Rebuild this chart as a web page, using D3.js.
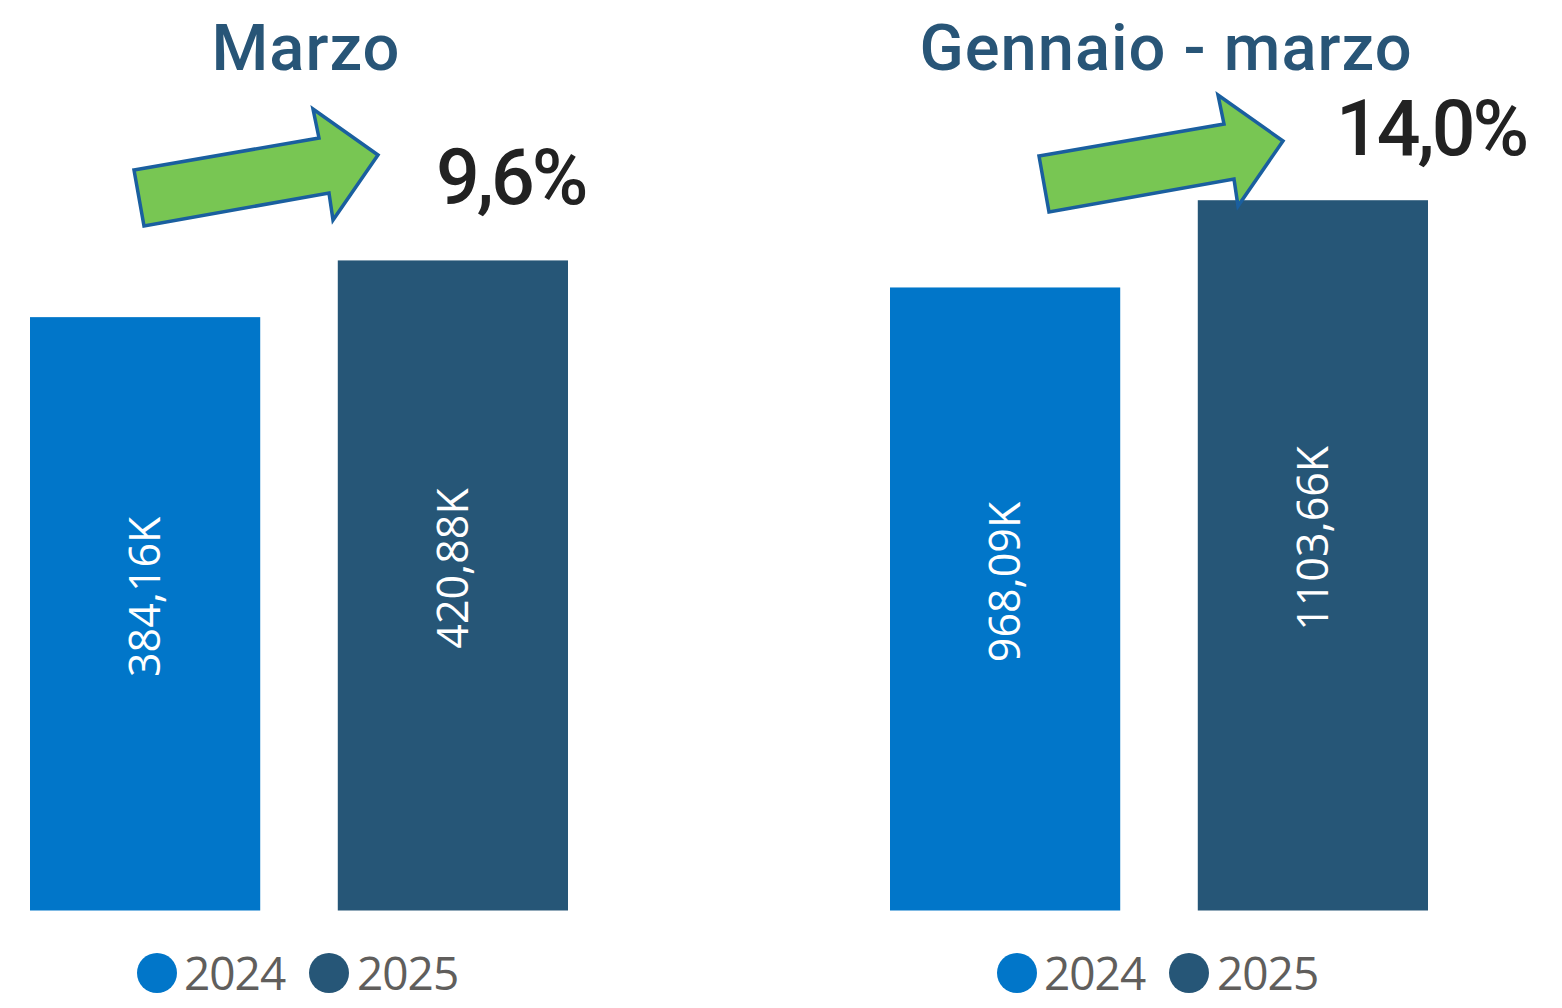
<!DOCTYPE html>
<html>
<head>
<meta charset="utf-8">
<script src="https://cdn.jsdelivr.net/npm/d3@7"></script>
<style>
  html, body { margin: 0; padding: 0; background: #ffffff; }
  svg { display: block; }
</style>
</head>
<body>
<svg id="chart" width="1562" height="1008"></svg>
<script>
// Periods shown side by side, one small bar chart each
const periodTitles = ["Marzo", "Gennaio - marzo"];
// Years compared in every panel (also the legend entries)
const years = ["2024", "2025"];
// Values in thousands
const marzoValues = [384.16, 420.88];
const gennaioMarzoValues = [968.09, 1103.66];

const seriesValues = [marzoValues, gennaioMarzoValues];
const yearColors = ["#0176c9", "#265677"];

const svg = d3.select("#chart");

// Layout for each panel
const panelLayout = [
  { offsetX: 0,   yMax: 460,  arrowTip: [378, 155], pctX: 436, pctBaseline: 204 },
  { offsetX: 860, yMax: 1104, arrowTip: [423, 141], pctX: 476, pctBaseline: 155 }
];

const plotLeft = 30, plotRight = 568, plotBottom = 910.5, plotTop = 200;

const itLocale = d3.formatLocale({ decimal: ",", thousands: ".", grouping: [3], currency: ["€", ""] });
const fmtValue = itLocale.format(".2f");
const fmtPct = itLocale.format(".1f");

// Block arrow outline, relative to the arrow tip
const arrowShape = [
  [-244, 15], [-59, -17], [-65, -46], [0, 0], [-45, 65], [-49, 38], [-234, 71]
];

periodTitles.forEach((title, i) => {
  const layout = panelLayout[i];
  const values = seriesValues[i];
  const g = svg.append("g").attr("transform", `translate(${layout.offsetX},0)`);

  const x = d3.scaleBand()
    .domain(years)
    .range([plotLeft, plotRight])
    .paddingInner(0.252)
    .paddingOuter(0);

  const y = d3.scaleLinear()
    .domain([0, layout.yMax])
    .range([plotBottom, plotTop]);

  // Title
  g.append("text")
    .attr("x", 306)
    .attr("y", 70)
    .attr("text-anchor", "middle")
    .attr("font-family", "Roboto, 'DejaVu Sans', sans-serif")
    .attr("font-weight", 500)
    .attr("font-size", 65)
    .attr("letter-spacing", 1)
    .attr("fill", "#285577")
    .text(title);

  // Bars
  g.selectAll("rect.bar")
    .data(values)
    .join("rect")
    .attr("class", "bar")
    .attr("x", (d, j) => x(years[j]))
    .attr("y", d => y(d))
    .attr("width", x.bandwidth())
    .attr("height", d => y(0) - y(d))
    .attr("fill", (d, j) => yearColors[j]);

  // Rotated value labels inside the bars
  g.selectAll("text.val")
    .data(values)
    .join("text")
    .attr("class", "val")
    .attr("transform", (d, j) => {
      const cx = x(years[j]) + x.bandwidth() / 2 + 15;
      const cy = (y(d) + y(0)) / 2 - 17;
      return `translate(${cx},${cy}) rotate(-90)`;
    })
    .attr("text-anchor", "middle")
    .attr("font-family", "'Open Sans', 'Noto Sans', sans-serif")
    .attr("font-size", 43)
    .attr("fill", "#ffffff")
    .text(d => fmtValue(d) + "K");

  // Growth arrow
  const [tx, ty] = layout.arrowTip;
  g.append("polygon")
    .attr("points", arrowShape.map(([dx, dy]) => `${tx + dx},${ty + dy}`).join(" "))
    .attr("fill", "#78c653")
    .attr("stroke", "#1a5f9f")
    .attr("stroke-width", 3.5)
    .attr("stroke-linejoin", "miter");

  // Growth percentage
  const growth = (values[1] / values[0] - 1) * 100;
  g.append("text")
    .attr("x", layout.pctX)
    .attr("y", layout.pctBaseline)
    .attr("font-family", "Roboto, 'DejaVu Sans', sans-serif")
    .attr("font-weight", 500)
    .attr("font-size", 77)
    .attr("letter-spacing", -3)
    .attr("fill", "#222222")
    .text(fmtPct(growth) + "%");

  // Legend
  const legendItems = [
    { cx: 157, tx: 184 },
    { cx: 329, tx: 357 }
  ];
  const lg = g.append("g");
  lg.selectAll("circle")
    .data(years)
    .join("circle")
    .attr("cx", (d, j) => legendItems[j].cx)
    .attr("cy", 973)
    .attr("r", 20)
    .attr("fill", (d, j) => yearColors[j]);
  lg.selectAll("text")
    .data(years)
    .join("text")
    .attr("x", (d, j) => legendItems[j].tx)
    .attr("y", 990)
    .attr("font-family", "'Open Sans', 'Noto Sans', sans-serif")
    .attr("font-size", 46)
    .attr("letter-spacing", -1)
    .attr("fill", "#605e5c")
    .text(d => d);
});
</script>
</body>
</html>
